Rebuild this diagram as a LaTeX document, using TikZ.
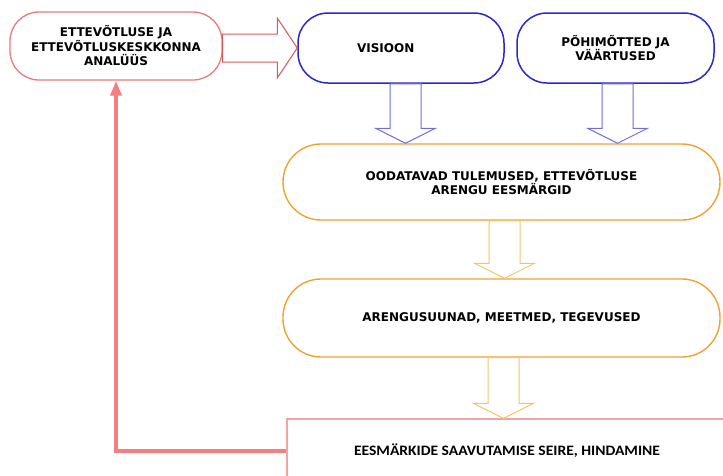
\documentclass[tikz,border=0pt]{standalone}
\usepackage{fontspec}
\setmainfont{DejaVu Sans}
\newfontfamily\seirefont{Carlito}[FakeStretch=1.08]
\usetikzlibrary{calc,arrows.meta}

\definecolor{anared}{HTML}{E87C7C}
\definecolor{arrred}{HTML}{D9585A}
\definecolor{backred}{HTML}{F47E80}
\definecolor{seirered}{HTML}{F4A3A5}
\definecolor{visblue}{HTML}{2A2AC8}
\definecolor{arrblue}{HTML}{6E6EDC}
\definecolor{goalorange}{HTML}{EFA232}
\definecolor{arrorange}{HTML}{F4C46A}

\begin{document}
\begin{tikzpicture}[x=1pt,y=-1pt,
    font=\fontsize{12}{14.5}\selectfont\bfseries,
    box/.style={draw,fill=white,inner sep=0pt,align=center},
    redbox/.style={box,draw=anared,line width=1.3pt,rounded corners=29pt},
    bluebox/.style={box,draw=visblue,line width=1.5pt,rounded corners=30pt},
    orangebox/.style={box,draw=goalorange,line width=1.4pt,rounded corners=38pt},
    bluearrow/.style={draw=arrblue,line width=1pt,fill=white},
    orangearrow/.style={draw=arrorange,line width=1pt,fill=white},
    redarrow/.style={draw=arrred,line width=1pt,fill=white},
    feedback/.style={draw=backred,line width=3.4pt,-{Triangle[length=15pt,width=11pt]}}]
  \useasboundingbox (0,0) rectangle (723,475);

  \node[redbox,minimum width=212pt,minimum height=68pt](ana) at(116,46)
    {ETTEVÕTLUSE JA\\ETTEVÕTLUSKESKKONNA\\ANALÜÜS};
  \node[bluebox,minimum width=206pt,minimum height=70pt,text width=88pt,align=left](vis) at(401,48)
    {VISIOON};
  \node[bluebox,minimum width=197pt,minimum height=70pt](pohi) at(615.5,48)
    {PÕHIMÕTTED JA\\VÄÄRTUSED};
  \node[orangebox,minimum width=437pt,minimum height=76pt](ooda) at(501.5,182)
    {OODATAVAD TULEMUSED, ETTEVÕTLUSE\\ARENGU EESMÄRGID};
  \node[orangebox,minimum width=437pt,minimum height=78pt](areng) at(501.5,318)
    {ARENGUSUUNAD, MEETMED, TEGEVUSED};
  \node[box,draw=seirered,line width=1.2pt,minimum width=440pt,minimum height=64pt,
    font=\seirefont\fontsize{14.4}{16}\selectfont\bfseries](seire) at(507,451)
    {EESMÄRKIDE SAAVUTAMISE SEIRE, HINDAMINE};

  % block arrows downwards
  \foreach \a/\b/\dx/\s in{vis/ooda/4.5/bluearrow, pohi/ooda/2/bluearrow,
    ooda/areng/3/orangearrow, areng/seire/2/orangearrow}{
    \coordinate (s) at ($(\a.south)+(\dx,0)$);
    \coordinate (t) at (s |- \b.north);
    \draw[\s] ($(s)+(-15.5,0)$) -- ($(t)+(-15.5,-15)$) -- ($(t)+(-30,-15)$) -- (t)
      -- ($(t)+(30,-15)$) -- ($(t)+(15.5,-15)$) -- ($(s)+(15.5,0)$) -- cycle;
  }

  % block arrow to the right
  \coordinate (r) at (vis.west -| ana.east);
  \draw[redarrow] ($(r)+(0,-14)$) -- ($(vis.west)+(-20,-14)$) -- ($(vis.west)+(-20,-30)$)
    -- (vis.west) -- ($(vis.west)+(-20,30)$) -- ($(vis.west)+(-20,14)$) -- ($(r)+(0,14)$) -- cycle;

  \draw[feedback](seire.west) -| (ana.south);
\end{tikzpicture}
\end{document}
